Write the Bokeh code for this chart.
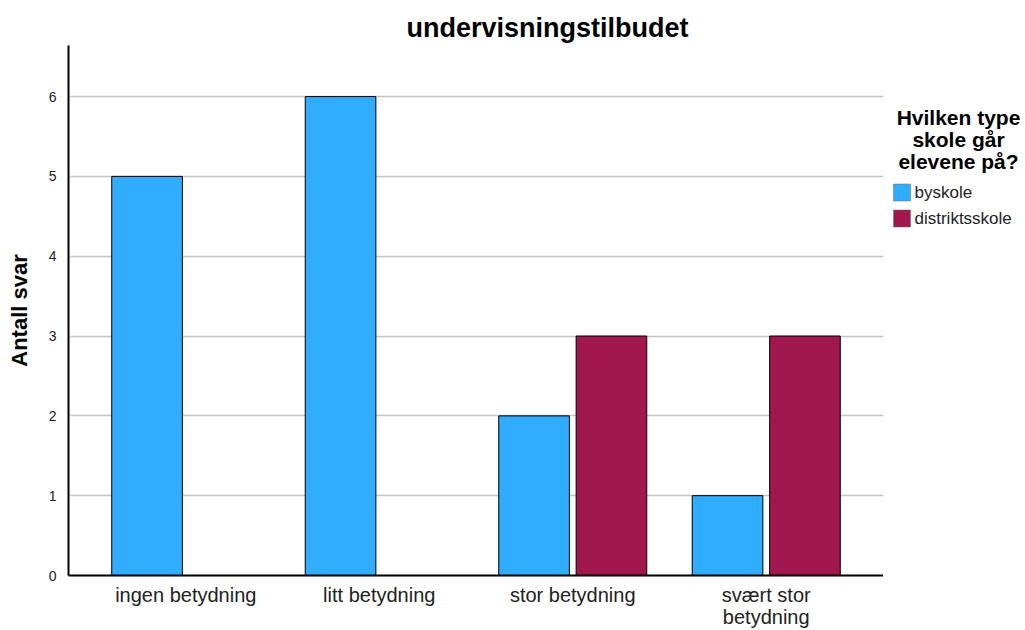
from bokeh.plotting import figure
from bokeh.layouts import row
from bokeh.models import ColumnDataSource, FactorRange, FixedTicker
from bokeh.transform import dodge
from bokeh.embed import file_html
from bokeh.resources import INLINE

# Answers grouped by school type
categories = ["ingen betydning", "litt betydning", "stor betydning", "svært stor\nbetydning"]
series_names = ["byskole", "distriktsskole"]
byskole = [5, 6, 2, 1]
distriktsskole = [0, 0, 3, 3]
y_ticks = [0, 1, 2, 3, 4, 5, 6]
legend_title_lines = ["Hvilken type", "skole går", "elevene på?"]

FONT = "Liberation Sans"
COLORS = ["#30adfe", "#a0184e"]
H = 630
FRAME_TOP, FRAME_BOTTOM = 45, 575

source = ColumnDataSource(dict(cat=categories, by=byskole, dist=distriktsskole))

p = figure(
    width=883, height=H,
    x_range=FactorRange(*categories, range_padding=0.053),
    y_range=(0, 6.64),
    output_backend="svg", toolbar_location=None,
    min_border_left=68, min_border_right=0,
    min_border_top=FRAME_TOP, min_border_bottom=H - FRAME_BOTTOM,
)

p.vbar(x=dodge("cat", -0.2, range=p.x_range), top="by", width=0.365, source=source,
       fill_color=COLORS[0], line_color="black", line_width=1)
p.vbar(x=dodge("cat", 0.2, range=p.x_range), top="dist", width=0.365, source=source,
       fill_color=COLORS[1], line_color="black", line_width=1)

# Title
p.title.text = "undervisningstilbudet"
p.title.text_font = FONT
p.title.text_font_size = "27px"
p.title.text_font_style = "bold"
p.title.text_color = "black"
p.title.align = "left"
p.title.offset = 338
p.title.standoff = 6

# Axes
p.yaxis.ticker = FixedTicker(ticks=y_ticks)
p.yaxis.axis_label = "Antall svar"
p.yaxis.axis_label_text_font = FONT
p.yaxis.axis_label_text_font_size = "22px"
p.yaxis.axis_label_text_font_style = "bold"
p.yaxis.axis_label_text_color = "black"
p.yaxis.axis_label_standoff = 14
p.yaxis.major_label_text_font = FONT
p.yaxis.major_label_text_font_size = "14px"
p.yaxis.major_label_text_color = "#222222"
p.yaxis.major_tick_line_color = None
p.yaxis.minor_tick_line_color = None
p.yaxis.axis_line_width = 2
p.yaxis.axis_line_color = "black"
p.yaxis.major_label_standoff = 6

p.xaxis.major_label_text_font = FONT
p.xaxis.major_label_text_font_size = "20px"
p.xaxis.major_label_text_line_height = 1.0
p.xaxis.major_label_text_color = "#222222"
p.xaxis.major_tick_line_color = None
p.xaxis.major_tick_out = 0
p.xaxis.major_tick_in = 0
p.xaxis.axis_line_width = 2
p.xaxis.axis_line_color = "black"
p.xaxis.major_label_standoff = 8

p.xgrid.grid_line_color = None
p.ygrid.grid_line_color = "#c4c4c4"
p.ygrid.grid_line_width = 1.5
p.outline_line_color = None

# Legend panel: a blank figure whose data units are pixel rows counted from the bottom
leg = figure(
    width=142, height=H, x_range=(0, 142), y_range=(H - FRAME_BOTTOM, H - FRAME_TOP),
    output_backend="svg", toolbar_location=None,
    x_axis_type=None, y_axis_type=None,
    min_border_left=0, min_border_right=0,
    min_border_top=FRAME_TOP, min_border_bottom=H - FRAME_BOTTOM,
)
leg.grid.visible = False
leg.outline_line_color = None

title_top = H - 117
leg.text(
    x=[75] * len(legend_title_lines),
    y=[title_top - 22 * i for i in range(len(legend_title_lines))],
    text=legend_title_lines,
    text_font={"value": FONT}, text_font_size="21px", text_font_style="bold",
    text_color="black", text_align="center", text_baseline="middle",
)

item_top = H - 192
item_y = [item_top - 26 * i for i in range(len(series_names))]
leg.rect(x=[18.5] * len(series_names), y=item_y, width=17, height=17,
         fill_color=COLORS, line_color="#666666", line_width=0.5)
leg.text(
    x=[31] * len(series_names), y=item_y, text=series_names,
    text_font={"value": FONT}, text_font_size="17px",
    text_color="#222222", text_align="left", text_baseline="middle",
)

open("out.html", "w").write(file_html(row(p, leg), INLINE))
